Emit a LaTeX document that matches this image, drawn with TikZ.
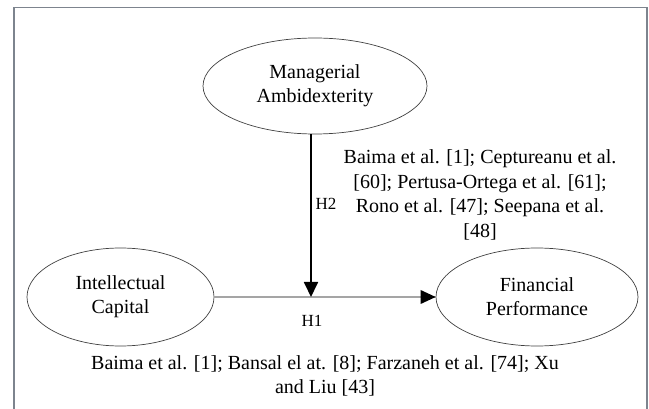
\documentclass[tikz,border=0pt]{standalone}
\usepackage{fontspec}
\setmainfont{Liberation Serif}
\usetikzlibrary{shapes.geometric,arrows.meta}
\definecolor{framegray}{RGB}{125,132,142}
\definecolor{linegray}{RGB}{165,165,165}
\tikzset{
  construct/.style={draw=black!75, line width=0.7pt, ellipse, inner sep=0pt,
    align=center, font=\fontsize{20}{24}\selectfont},
  cite/.style={align=center, inner sep=0pt, font=\fontsize{20}{24.5}\selectfont},
  hyp/.style={inner sep=0pt, font=\fontsize{17}{20}\selectfont},
  tip/.style={-{Triangle[length=15pt,width=14pt]}}
}
\begin{document}
\begin{tikzpicture}[x=1pt,y=-1pt]
\useasboundingbox (0,0) rectangle (649,409);
% frame
\draw[framegray, line width=1.5pt] (14,409) -- (14,7.5) -- (647,7.5) -- (647,409);
% constructs
\node[construct, minimum width=224pt, minimum height=96pt] (MA) at (315,86) {Managerial\\Ambidexterity};
\node[construct, minimum width=187pt, minimum height=98pt] (IC) at (120.5,297) {Intellectual\\Capital};
\node[construct, minimum width=202pt, minimum height=98pt] (FP) at (537,297) {Financial\\Performance};
% connectors
\coordinate (m) at (311,297);
\draw[linegray, line width=1.6pt] (IC.east) -- (FP.west);
\fill[black] (FP.west) -- ++(-15,-7) -- ++(0,14) -- cycle;
\draw[black, line width=1.8pt, tip] (m |- MA.south) -- (m);
% labels
\node[hyp] (h2) at (326,204) {H2};
\node[hyp] (h1) at (312,321) {H1};
\node[cite] (c2) at (480,195) {Baima et al. [1]; Ceptureanu et al.\\{}[60]; Pertusa-Ortega et al. [61];\\Rono et al. [47]; Seepana et al.\\{}[48]};
\node[cite] (c1) at (325,376) {Baima et al. [1]; Bansal el at. [8]; Farzaneh et al. [74]; Xu\\and Liu [43]};
\end{tikzpicture}
\end{document}
